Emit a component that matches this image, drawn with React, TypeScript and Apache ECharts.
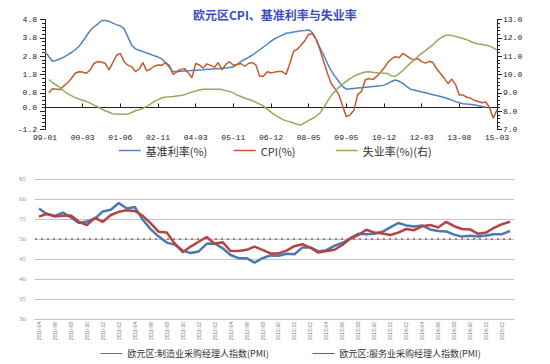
import React, { useEffect, useRef } from 'react';
import * as echarts from 'echarts';

const topTitle = '欧元区CPI、基准利率与失业率';
const topTickLabels = ['99-01', '00-03', '01-06', '02-11', '04-03', '05-11', '06-12', '08-05', '09-05', '10-12', '12-03', '13-08', '15-03'];
const leftAxisLabelValues = [-1.2, 0, 0.8, 1.8, 2.8, 3.8, 4.8];

const baseRate = [
  3.05, 2.78, 2.52, 2.58, 2.65, 2.75, 2.87, 3.0, 3.15, 3.33,
  3.6, 3.9, 4.2, 4.4, 4.55, 4.75, 4.75, 4.7, 4.6, 4.52,
  4.45, 4.3, 3.85, 3.4, 3.2, 3.12, 3.05, 2.97, 2.9, 2.82,
  2.75, 2.65, 2.45, 2.2, 1.97, 1.97, 1.98, 1.99, 2.0, 2.02,
  2.03, 2.05, 2.06, 2.08, 2.09, 2.11, 2.12, 2.14, 2.16, 2.18,
  2.22, 2.35, 2.5, 2.62, 2.73, 2.85, 3.0, 3.15, 3.3, 3.45,
  3.62, 3.75, 3.85, 3.95, 4.05, 4.08, 4.12, 4.15, 4.18, 4.2,
  4.23, 4.08, 3.7, 3.25, 2.85, 2.4, 2.0, 1.7, 1.42, 1.15,
  1.0, 1.02, 1.04, 1.06, 1.08, 1.1, 1.12, 1.14, 1.16, 1.18,
  1.22, 1.3, 1.42, 1.5, 1.43, 1.32, 1.15, 1.0, 0.95, 0.9,
  0.85, 0.8, 0.75, 0.7, 0.65, 0.6, 0.55, 0.48, 0.4, 0.32,
  0.26, 0.21, 0.19, 0.17, 0.15, 0.1, 0.05, 0.02, null, null,
  null,
];

const cpi = [
  null, 0.8, 1.02, 1.0, 0.98, 1.18, 1.35, 1.58, 1.87, 1.95,
  1.93, 1.87, 2.05, 2.4, 2.5, 2.48, 2.4, 2.05, 2.45, 2.85,
  2.95, 2.5, 2.3, 2.23, 1.96, 2.1, 2.45, 2.0, 2.1, 2.25,
  2.32, 2.3, 2.45, 2.3, 1.8, 1.95, 2.08, 2.12, 1.9, 1.62,
  2.4, 2.32, 2.15, 2.38, 2.3, 2.2, 2.45, 2.05, 2.35, 2.5,
  2.3, 2.35, 2.4, 2.25, 2.4, 2.45, 2.32, 1.7, 1.7, 1.95,
  1.88, 1.93, 1.96, 1.96, 1.8, 2.4, 3.07, 3.18, 3.41, 3.65,
  4.0, 4.02, 3.7, 3.15, 2.5, 1.85, 1.3, 1.02, 0.7, 0.1,
  -0.5, -0.4, -0.17, 0.7, 0.87, 1.5, 1.58, 1.52, 1.68, 1.9,
  2.15, 2.45, 2.65, 2.77, 2.72, 2.95, 2.82, 2.68, 2.6, 2.67,
  2.5, 2.42, 2.52, 2.45, 2.1, 1.85, 1.6, 1.3, 1.55, 1.25,
  0.68, 0.68, 0.56, 0.5, 0.4, 0.33, 0.26, 0.3, 0.0, -0.58,
  -0.13,
];

const unemployment = [
  null, 9.72, 9.55, 9.42, 9.28, 9.1, 8.96, 8.85, 8.74, 8.66,
  8.6, 8.53, 8.44, 8.33, 8.23, 8.12, 8.02, 7.94, 7.86, 7.83,
  7.83, 7.83, 7.84, 7.93, 8.02, 8.08, 8.15, 8.26, 8.38, 8.53,
  8.63, 8.72, 8.77, 8.78, 8.8, 8.83, 8.86, 8.9, 8.97, 9.04,
  9.1, 9.15, 9.2, 9.2, 9.2, 9.2, 9.2, 9.18, 9.12, 9.08,
  9.0, 8.88, 8.8, 8.72, 8.65, 8.58, 8.48, 8.38, 8.28, 8.1,
  7.95, 7.8, 7.68, 7.55, 7.47, 7.42, 7.35, 7.28, 7.25, 7.38,
  7.5, 7.6, 7.72, 7.9, 8.2, 8.55, 8.85, 9.08, 9.3, 9.47,
  9.62, 9.78, 9.9, 10.0, 10.07, 10.14, 10.15, 10.12, 10.1, 10.08,
  10.07, 10.05, 9.92, 9.9, 10.05, 10.22, 10.42, 10.62, 10.8, 10.98,
  11.15, 11.3, 11.47, 11.62, 11.83, 11.98, 12.1, 12.16, 12.13, 12.08,
  12.02, 11.96, 11.9, 11.8, 11.72, 11.67, 11.64, 11.6, 11.56, 11.45,
  11.33,
];

const pmiManufacturing = [
  57.6, 56.2, 55.8, 56.6, 55.4, 54.0, 54.4, 55.1, 56.9, 57.3,
  59.0, 57.6, 58.0, 54.8, 52.4, 50.6, 49.1, 48.6, 47.1, 46.5,
  46.9, 48.8, 48.9, 47.7, 46.0, 45.2, 45.2, 44.1, 45.2, 45.9,
  45.8, 46.3, 46.2, 47.9, 47.9, 46.9, 47.2, 48.3, 49.0, 50.2,
  51.3, 51.2, 51.3, 51.8, 52.9, 54.0, 53.4, 53.1, 53.4, 52.4,
  52.0, 51.9, 51.1, 50.6, 50.8, 50.6, 50.9, 51.2, 51.2, 52.0,
];

const pmiServices = [
  55.6, 56.3, 55.6, 55.8, 55.9, 54.3, 53.5, 55.3, 54.3, 56.0,
  56.8, 57.2, 57.0, 55.8, 53.9, 51.8, 51.6, 48.9, 46.7, 48.1,
  49.3, 50.5, 48.8, 49.2, 47.0, 47.0, 47.3, 48.1, 47.3, 46.4,
  46.4, 47.1, 48.2, 48.7, 47.8, 46.6, 47.0, 47.3, 48.5, 50.1,
  51.0, 52.3, 51.6, 51.4, 51.0, 51.6, 52.5, 52.2, 53.2, 53.5,
  52.9, 54.3, 53.2, 52.5, 52.4, 51.3, 51.6, 52.8, 53.7, 54.3,
];

const pmiStartYear = 2010;
const pmiStartMonth = 4;
const pmiThreshold = 50;

const seriesNames = {
  rate: '基准利率(%)',
  cpi: 'CPI(%)',
  unemp: '失业率(%)(右)',
  mfg: '欧元区:制造业采购经理人指数(PMI)',
  svc: '欧元区:服务业采购经理人指数(PMI)',
};

export default function App() {
  const ref = useRef<HTMLDivElement>(null);

  useEffect(() => {
    if (!ref.current) return;
    const chart = echarts.init(ref.current, undefined, { renderer: 'svg' });

    const topCategories = baseRate.map((_, i) => String(i));
    const pmiMonths = pmiManufacturing.map((_, k) => {
      const m = pmiStartMonth - 1 + k;
      const y = pmiStartYear + Math.floor(m / 12);
      const mm = (m % 12) + 1;
      return `${y}-${String(mm).padStart(2, '0')}`;
    });

    const mono = 'Liberation Mono, DejaVu Sans Mono, monospace';
    const cjk = 'Noto Sans CJK SC, sans-serif';
    const axisColor = '#222';

    const topLegend = {
      itemWidth: 22,
      itemHeight: 8,
      itemGap: 0,
      itemStyle: { opacity: 0 },
      lineStyle: { width: 1.5 },
      textStyle: { fontFamily: cjk, fontSize: 11, color: '#333' },
    };
    const bottomLegend = {
      itemWidth: 22,
      itemHeight: 8,
      itemGap: 0,
      itemStyle: { opacity: 0 },
      lineStyle: { width: 1 },
      textStyle: { fontFamily: cjk, fontSize: 9, color: '#333' },
    };

    const lineSeries = (name: string, data: (number | null)[], color: string, width: number, xi: number, yi: number) => ({
      name,
      type: 'line',
      xAxisIndex: xi,
      yAxisIndex: yi,
      data,
      symbol: 'none',
      showSymbol: false,
      lineStyle: { color, width },
      itemStyle: { color, borderWidth: 0 },
    });

    chart.setOption({
      animation: false,
      backgroundColor: '#ffffff',
      title: {
        text: topTitle,
        left: 188,
        top: 3,
        textStyle: { fontFamily: cjk, fontSize: 12, fontWeight: 'bold', color: '#3b4cc0' },
      },
      legend: [
        { ...topLegend, data: [seriesNames.rate], left: 113, top: 140 },
        { ...topLegend, data: [seriesNames.cpi], left: 228, top: 140 },
        { ...topLegend, data: [seriesNames.unemp], left: 330, top: 140 },
        { ...bottomLegend, data: [seriesNames.mfg], left: 95, top: 344 },
        { ...bottomLegend, data: [seriesNames.svc], left: 307, top: 344 },
      ],
      grid: [
        { left: 45, right: 53, top: 19.5, height: 110, containLabel: false },
        { left: 35, right: 36, top: 179, height: 140, containLabel: false },
      ],
      xAxis: [
        {
          type: 'category',
          gridIndex: 0,
          data: topCategories,
          boundaryGap: false,
          axisLine: { lineStyle: { color: axisColor, width: 1 } },
          axisTick: { interval: 9, inside: true, length: 4, lineStyle: { color: axisColor } },
          axisLabel: {
            interval: 9,
            margin: 4,
            fontFamily: mono,
            fontSize: 8,
            color: axisColor,
            formatter: (v: string) => {
              const i = Number(v);
              return i % 10 === 0 ? topTickLabels[i / 10] : '';
            },
          },
          splitLine: { show: false },
        },
        {
          type: 'category',
          gridIndex: 1,
          data: pmiMonths,
          boundaryGap: true,
          axisLine: { lineStyle: { color: '#c4c4c4', width: 1 } },
          axisTick: { show: false },
          axisLabel: {
            interval: 1,
            rotate: 90,
            margin: 3,
            fontFamily: 'Liberation Sans, sans-serif',
            fontSize: 5,
            color: '#777',
          },
          splitLine: { show: false },
        },
      ],
      yAxis: [
        {
          type: 'value',
          gridIndex: 0,
          min: -1.2,
          max: 4.8,
          interval: 1,
          axisLine: { show: true, lineStyle: { color: axisColor, width: 1 } },
          axisTick: { show: true, length: 5, lineStyle: { color: axisColor } },
          minorTick: { show: true, splitNumber: 5, length: 3, lineStyle: { color: axisColor } },
          axisLabel: {
            customValues: leftAxisLabelValues,
            margin: 8,
            fontFamily: mono,
            fontSize: 8,
            color: axisColor,
            formatter: (v: number) => v.toFixed(1),
          },
          splitLine: { show: false },
          minorSplitLine: { show: false },
        },
        {
          type: 'value',
          gridIndex: 0,
          position: 'right',
          min: 7,
          max: 13,
          interval: 1,
          axisLine: { show: true, lineStyle: { color: axisColor, width: 1 } },
          axisTick: { show: true, length: 5, lineStyle: { color: axisColor } },
          minorTick: { show: true, splitNumber: 5, length: 3, lineStyle: { color: axisColor } },
          axisLabel: {
            margin: 6,
            fontFamily: mono,
            fontSize: 8,
            color: axisColor,
            formatter: (v: number) => v.toFixed(1),
          },
          splitLine: { show: false },
        },
        {
          type: 'value',
          gridIndex: 1,
          min: 30,
          max: 65,
          interval: 5,
          axisLine: { show: false },
          axisTick: { show: false },
          axisLabel: { margin: 9, fontFamily: 'Liberation Serif, serif', fontSize: 7, color: '#999' },
          splitLine: { show: true, lineStyle: { color: '#c4c4c4', width: 1 } },
        },
      ],
      series: [
        lineSeries(seriesNames.rate, baseRate, '#4f84c0', 1.5, 0, 0),
        lineSeries(seriesNames.cpi, cpi, '#c65a2e', 1.5, 0, 0),
        lineSeries(seriesNames.unemp, unemployment, '#98a95c', 1.5, 0, 1),
        {
          ...lineSeries(seriesNames.mfg, pmiManufacturing, '#4a78b0', 2.5, 1, 2),
          markLine: {
            silent: true,
            symbol: 'none',
            label: { show: false },
            lineStyle: { color: '#c0504d', type: [2, 4], width: 1.5 },
            data: [{ yAxis: pmiThreshold }],
          },
        },
        lineSeries(seriesNames.svc, pmiServices, '#b7423f', 2.5, 1, 2),
      ],
    });

    return () => chart.dispose();
  }, []);

  return (
    <div
      ref={ref}
      style={{ position: 'absolute', left: 0, top: 0, width: 550, height: 364, background: '#fff' }}
    />
  );
}
